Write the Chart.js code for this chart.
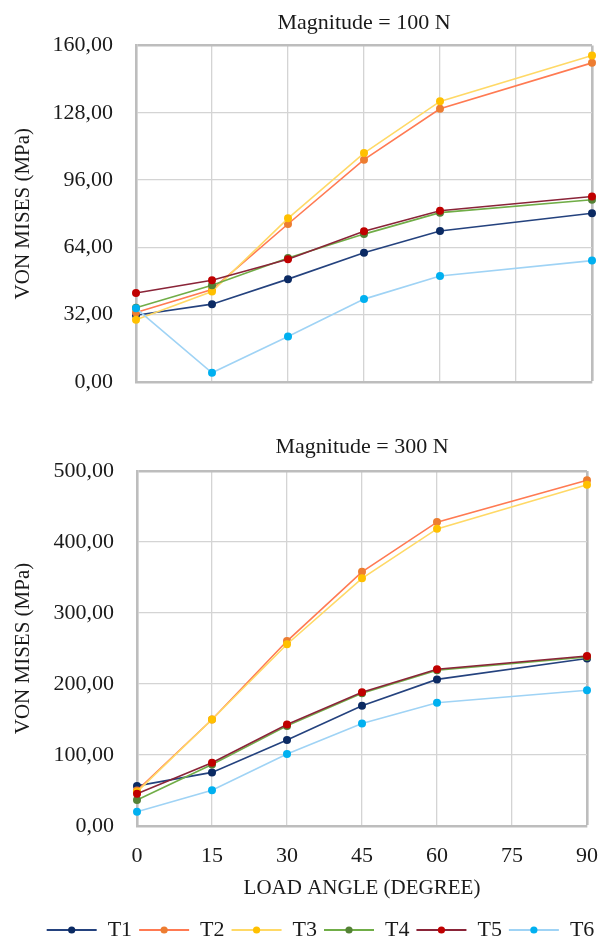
<!DOCTYPE html>
<html>
<head>
<meta charset="utf-8">
<script src="https://cdn.jsdelivr.net/npm/chart.js@4.4.1/dist/chart.umd.min.js"></script>
<style>
  html, body { margin: 0; padding: 0; background: #fff; overflow: hidden; width: 615px; height: 941px; }
  canvas { position: absolute; left: 0; }
  #c1 { top: 0; }
  #c2 { top: 420px; }
</style>
</head>
<body>
<canvas id="c1" width="615" height="420"></canvas>
<canvas id="c2" width="615" height="531"></canvas>
<script>
// ---------- DATA ----------
const angles = [0, 15, 30, 45, 60, 90];
const seriesNames = ['T1', 'T2', 'T3', 'T4', 'T5', 'T6'];
const xTickValues = [0, 15, 30, 45, 60, 75, 90];

// Magnitude = 100 N
const t1_100 = [31.7, 37.0, 48.9, 61.4, 71.8, 80.2];
const t2_100 = [33.0, 44.0, 75.1, 105.7, 129.9, 151.7];
const t3_100 = [29.6, 43.0, 77.8, 108.8, 133.4, 155.2];
const t4_100 = [35.3, 46.0, 58.9, 70.3, 80.5, 86.6];
const t5_100 = [42.3, 48.4, 58.3, 71.7, 81.4, 88.2];
const t6_100 = [35.0, 4.4, 21.6, 39.4, 50.4, 57.7];
const yTicks100 = [0, 32, 64, 96, 128, 160];

// Magnitude = 300 N
const t1_300 = [56.5, 75.5, 121.0, 169.5, 206.5, 236.0];
const t2_300 = [50.0, 150.0, 260.5, 358.0, 428.0, 487.0];
const t3_300 = [48.0, 150.0, 256.0, 348.8, 418.5, 480.5];
const t4_300 = [36.5, 86.5, 141.0, 187.0, 219.5, 238.0];
const t5_300 = [45.5, 89.0, 143.0, 188.3, 220.7, 239.4];
const t6_300 = [20.0, 50.5, 101.3, 144.5, 173.5, 191.3];
const yTicks300 = [0, 100, 200, 300, 400, 500];

// ---------- STYLE ----------
const lineColors   = ['#24427e', '#ff7a52', '#ffd966', '#70ad47', '#8a2438', '#9fd3f5'];
const markerColors = ['#0b2a63', '#ed7d31', '#ffc000', '#548235', '#c00000', '#00b0f0'];
const FONT = 'Liberation Serif';
const TXT = '#1a1a1a';
const GRID = '#d4d4d4';
const BORDER = '#bdbdbd';

function makeDatasets(arrs) {
  return arrs.map((vals, i) => ({
    label: seriesNames[i],
    data: angles.map((a, k) => ({ x: a, y: vals[k] })),
    borderColor: lineColors[i],
    backgroundColor: lineColors[i],
    pointBackgroundColor: markerColors[i],
    pointBorderColor: markerColors[i],
    borderWidth: 1.6,
    pointRadius: 4,
    pointBorderWidth: 0,
    tension: 0,
    clip: false,
    order: seriesNames.length - i
  }));
}

const fmt = v => v.toFixed(2).replace('.', ',');

const layoutFix = {
  id: 'layoutFix',
  afterLayout(chart) {
    const ca = chart.chartArea;
    if (chart.titleBlock) {
      chart.titleBlock.left = ca.left;
      chart.titleBlock.right = ca.right;
    }
    if (chart.legend && chart.options.plugins.legend.display) {
      chart.legend.left = 26;
      chart.legend.right = 615;
    }
  }
};

const legendDots = {
  id: 'legendDots',
  afterDraw(chart) {
    const lg = chart.legend;
    if (!lg || !chart.options.plugins.legend.display || !lg.legendHitBoxes) return;
    const bw = lg.options.labels.boxWidth;
    const ctx = chart.ctx;
    lg.legendHitBoxes.forEach((hb, i) => {
      const di = lg.legendItems[i].datasetIndex;
      ctx.save();
      ctx.fillStyle = markerColors[di];
      ctx.beginPath();
      ctx.arc(hb.left + bw / 2, hb.top + hb.height / 2, 3.6, 0, Math.PI * 2);
      ctx.fill();
      ctx.restore();
    });
  }
};

function gridWidth(ctx, n) { return ctx.index === n - 1 ? 2.6 : 1.3; }
function gridColor(ctx, n) { return ctx.index === n - 1 ? BORDER : GRID; }

function buildChart(canvasId, titleText, arrs, yTicks, opts) {
  const last = yTicks.length;
  return new Chart(document.getElementById(canvasId), {
    type: 'line',
    data: { datasets: makeDatasets(arrs) },
    plugins: [layoutFix, legendDots],
    options: {
      responsive: false,
      animation: false,
      events: [],
      layout: { padding: { top: 0, right: 23, bottom: 0, left: 0 } },
      plugins: {
        title: {
          display: true,
          text: titleText,
          color: TXT,
          font: { family: FONT, size: 22, weight: 'normal' },
          padding: opts.titlePadding
        },
        legend: {
          display: opts.legend,
          position: 'bottom',
          labels: {
            font: { family: FONT, size: 22 },
            color: TXT,
            boxWidth: 50,
            boxHeight: 2,
            padding: 7,
            sort: (a, b) => a.datasetIndex - b.datasetIndex,
            generateLabels(chart) {
              const items = Chart.defaults.plugins.legend.labels.generateLabels(chart);
              items.forEach(it => {
                it.fillStyle = lineColors[it.datasetIndex];
                it.strokeStyle = lineColors[it.datasetIndex];
                it.lineWidth = 0;
              });
              return items;
            }
          }
        },
        tooltip: { enabled: false }
      },
      scales: {
        x: {
          type: 'linear',
          min: xTickValues[0],
          max: xTickValues[xTickValues.length - 1],
          afterBuildTicks: s => { s.ticks = xTickValues.map(v => ({ value: v })); },
          afterFit: s => { s.height = opts.xHeight; },
          grid: {
            drawTicks: false,
            color: c => gridColor(c, xTickValues.length),
            lineWidth: c => gridWidth(c, xTickValues.length)
          },
          border: { color: BORDER, width: 2.6 },
          ticks: {
            display: opts.xTicks,
            padding: 17,
            color: TXT,
            font: { family: FONT, size: 22 },
            maxRotation: 0
          },
          title: {
            display: opts.xTicks,
            text: 'LOAD ANGLE (DEGREE)',
            color: TXT,
            font: { family: FONT, size: 21 },
            padding: { top: 0, bottom: 11 }
          }
        },
        y: {
          type: 'linear',
          min: yTicks[0],
          max: yTicks[last - 1],
          afterBuildTicks: s => { s.ticks = yTicks.map(v => ({ value: v })); },
          afterFit: s => { s.width = opts.yWidth; },
          grid: {
            drawTicks: false,
            color: c => gridColor(c, last),
            lineWidth: c => gridWidth(c, last)
          },
          border: { color: BORDER, width: 2.6 },
          ticks: {
            padding: 23,
            color: TXT,
            font: { family: FONT, size: 22 },
            callback: v => fmt(v)
          },
          title: {
            display: true,
            text: 'VON MISES (MPa)',
            color: TXT,
            font: { family: FONT, size: 21 },
            padding: { top: 11, bottom: 0 }
          }
        }
      }
    }
  });
}

buildChart('c1', 'Magnitude = 100 N',
  [t1_100, t2_100, t3_100, t4_100, t5_100, t6_100], yTicks100,
  { titlePadding: { top: 10, bottom: 9 }, legend: false, xTicks: false, xHeight: 38, yWidth: 136 });

buildChart('c2', 'Magnitude = 300 N',
  [t1_300, t2_300, t3_300, t4_300, t5_300, t6_300], yTicks300,
  { titlePadding: { top: 14, bottom: 10.6 }, legend: true, xTicks: true, xHeight: 86, yWidth: 137 });
</script>
</body>
</html>
